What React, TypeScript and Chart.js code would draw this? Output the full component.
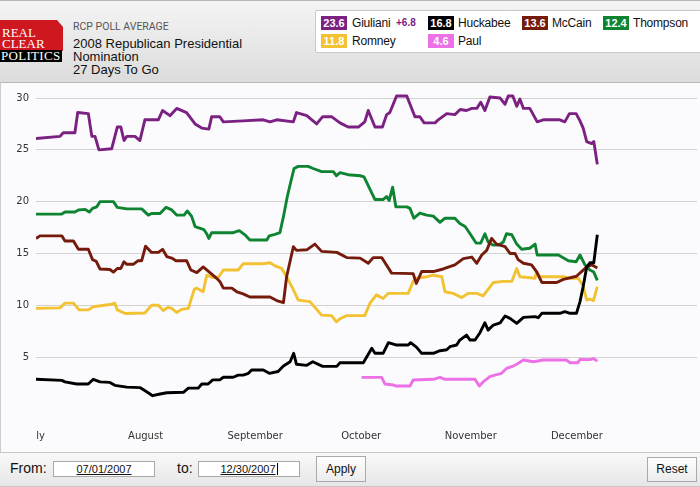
import React, { useEffect, useRef } from "react";
import { Chart, registerables } from "chart.js";

Chart.register(...registerables);

// ---- axis data ----
const monthTicks = [0, 31, 62, 92, 123, 153]; // day index from Jul 1, 2007
const monthLabels = ["July", "August", "September", "October", "November", "December"];
const yTicks = [5, 10, 15, 20, 25, 30];

// ---- series (day index from Jul 1, value %) ----
const giulianiDays = [0, 6.8, 7.7, 11, 11.8, 14.8, 15.8, 16.7, 17.8, 21.4, 23, 24, 24.9, 25.7, 28, 29.4, 30.8, 34.6, 35.8, 37.9, 39.8, 42.6, 45, 46.9, 48.9, 49.7, 52, 53, 58.6, 64.3, 66.2, 68.1, 72.8, 73.7, 76.6, 79.4, 81.1, 83.6, 86, 88.3, 91.2, 93, 94, 95.9, 98, 99.2, 100.1, 102, 104.9, 107.2, 108.6, 109.8, 112.9, 113.8, 116.2, 118.5, 120, 121.8, 123.3, 124.7, 125.8, 127, 128.4, 131.3, 132.7, 133.6, 134.9, 136, 136.9, 137.9, 139.7, 141.8, 143.5, 148.2, 149.6, 150.9, 152.8, 153.9, 154.8, 155.8, 157.2, 157.8, 158.8];
const giulianiValues = [26.1, 26.3, 26.65, 26.65, 28.6, 28.5, 26.3, 26.3, 25.0, 25.1, 27.2, 27.2, 25.9, 26.3, 26.3, 25.9, 27.9, 27.9, 28.8, 28.3, 29.0, 28.6, 27.5, 27.1, 27.0, 28.2, 28.2, 27.7, 27.8, 27.9, 27.7, 27.9, 27.7, 28.6, 28.3, 27.5, 28.2, 28.2, 27.6, 27.2, 27.2, 27.7, 28.8, 27.2, 27.2, 28.4, 28.6, 30.2, 30.2, 28.2, 28.2, 27.6, 27.6, 27.9, 28.5, 28.4, 28.9, 28.8, 29.0, 29.0, 29.6, 28.8, 30.1, 30.0, 29.4, 30.2, 30.2, 29.2, 29.9, 29.0, 29.0, 27.7, 27.9, 27.9, 27.7, 28.5, 28.5, 27.8, 27.1, 25.8, 25.6, 25.8, 23.6];

const thompsonDays = [0, 7.3, 8.2, 11, 12, 13.9, 15.1, 16, 17.2, 18.1, 21.9, 23, 25.7, 29.9, 31.8, 32.7, 35.1, 36.8, 38.4, 39.8, 41.9, 42.8, 44, 45, 47.5, 48.3, 48.9, 49.7, 55.8, 57.5, 59.1, 60.5, 65.3, 66, 67.6, 69, 70, 71.1, 72, 73, 74.2, 77, 78.4, 80.8, 84.1, 85, 86, 88.3, 91.7, 92.8, 95.9, 98.2, 99.2, 99.9, 100.9, 101.8, 104.9, 105.8, 106.9, 108.6, 110.5, 112.4, 114.3, 115.7, 118.5, 119.9, 121.4, 122.8, 124.5, 125.8, 127, 127.9, 129.4, 130.8, 132.2, 133.1, 134.6, 136, 137.4, 139.7, 141.2, 141.8, 147.8, 150.6, 152.8, 153.9, 155.3, 156.7, 157.8, 158.8];
const thompsonValues = [18.8, 18.8, 19.0, 19.0, 19.2, 19.25, 19.0, 19.35, 19.5, 20.0, 20.0, 19.45, 19.3, 19.3, 18.7, 18.85, 18.85, 19.45, 19.2, 18.7, 18.7, 19.1, 18.6, 17.6, 17.3, 16.9, 16.45, 17.0, 17.0, 17.2, 16.8, 16.3, 16.3, 16.7, 16.85, 17.0, 18.55, 20.5, 21.8, 23.2, 23.4, 23.4, 23.2, 22.9, 22.9, 22.5, 22.8, 22.6, 22.5, 22.4, 20.2, 20.2, 20.5, 20.1, 21.4, 19.5, 19.5, 19.35, 18.4, 18.9, 18.7, 18.6, 18.0, 18.4, 18.4, 17.9, 17.6, 16.9, 16.0, 16.0, 16.9, 16.1, 15.8, 15.8, 16.1, 16.9, 16.8, 15.9, 15.4, 15.5, 15.9, 14.85, 14.85, 14.3, 14.2, 14.85, 13.9, 13.4, 13.2, 12.4];

const mccainDays = [0, 1.1, 7.3, 8.2, 10.6, 12, 14.8, 16, 17, 18.1, 20.9, 21.9, 23, 24, 24.9, 25.7, 27.5, 28.9, 29.9, 31, 32.7, 34.6, 35.8, 37, 38.4, 39.6, 42.6, 43.8, 45.5, 47.3, 49.2, 51.1, 52, 53, 55.4, 56.8, 58.6, 60.5, 66.2, 68.1, 70, 70.9, 72.8, 73.7, 76.6, 78.9, 80.8, 85.1, 87.9, 91.7, 94, 95.4, 97.8, 100.6, 106.7, 107.6, 109.1, 112.4, 115.2, 118.5, 120.9, 123.3, 124.7, 126.1, 127.5, 128.9, 130.3, 132.7, 134.1, 135.5, 136.4, 137.9, 140.2, 141.6, 143.1, 147.3, 149.2, 152.9, 155.8, 157.2, 158.8];
const mccainValues = [16.45, 16.7, 16.7, 16.2, 16.2, 15.4, 15.4, 14.4, 14.25, 13.5, 13.45, 13.2, 13.55, 13.55, 14.2, 13.95, 13.95, 14.3, 14.3, 15.7, 15.1, 15.1, 15.4, 14.7, 14.55, 14.3, 14.3, 13.4, 13.15, 13.7, 13.15, 12.6, 12.3, 11.65, 11.65, 11.3, 11.1, 10.8, 10.8, 10.45, 10.25, 12.75, 15.65, 15.3, 15.35, 15.9, 15.2, 15.1, 14.6, 14.55, 14.05, 14.6, 14.6, 13.1, 13.05, 12.1, 13.25, 13.25, 13.5, 13.9, 14.5, 14.65, 14.05, 14.85, 15.3, 16.45, 15.9, 15.65, 15.0, 15.0, 14.4, 14.05, 13.9, 13.25, 12.2, 12.2, 12.5, 12.8, 13.7, 13.9, 13.6];

const romneyDays = [0, 6.8, 8.2, 10.6, 12.2, 14.8, 16.2, 21.4, 22.3, 23, 25.2, 30.8, 32.7, 34.6, 36, 37.4, 38.4, 39.8, 41.2, 43.1, 44.8, 45.5, 47.3, 48.3, 49.7, 51.6, 53, 57.2, 58.6, 64.3, 66.2, 67.6, 69.5, 70.9, 72.8, 74.2, 77.5, 80.8, 83.6, 85, 86, 87.9, 93, 94.5, 96.3, 98.2, 99.7, 105.3, 106.7, 107.7, 110.5, 112.4, 114.8, 115.7, 118, 120.4, 122.3, 124.7, 126.5, 129.4, 132.2, 134.6, 136, 136.9, 141.2, 141.6, 142.6, 149.2, 151.1, 153.4, 154.8, 155.8, 156.7, 157.7, 158.8];
const romneyValues = [9.7, 9.75, 10.2, 10.2, 9.55, 9.55, 9.86, 10.1, 10.2, 9.55, 9.2, 9.25, 10.0, 10.0, 9.5, 9.8, 9.7, 9.3, 9.6, 9.7, 11.55, 11.65, 11.3, 12.9, 12.7, 12.7, 13.4, 13.4, 14.0, 14.0, 14.1, 13.8, 13.55, 12.75, 11.5, 10.5, 10.35, 9.05, 9.0, 8.4, 8.7, 9.0, 9.0, 10.2, 11.0, 10.65, 11.15, 11.15, 12.3, 12.6, 12.75, 12.9, 12.75, 11.3, 11.15, 10.75, 11.15, 11.15, 10.9, 12.2, 12.3, 12.3, 13.55, 12.75, 12.6, 13.25, 12.75, 12.75, 12.6, 12.6, 11.85, 10.5, 10.6, 10.45, 11.8];

const huckabeeDays = [0, 7.3, 8.2, 11.5, 14.8, 16.2, 18.1, 20.9, 22.3, 25.7, 29.4, 31.3, 33, 35.1, 37, 41.7, 43.1, 45.9, 46.9, 48.7, 50, 52, 53, 55.8, 57.2, 58.6, 60.1, 61, 64.3, 66, 68.5, 70, 71.9, 72.9, 73.7, 76.6, 78.3, 81.1, 85.1, 86, 92.6, 95, 95.9, 98.2, 99.7, 102, 105.3, 106, 107.7, 109.1, 112.4, 114.3, 116.2, 117.1, 119, 119.9, 121.8, 122.8, 124.2, 125.6, 127, 127.9, 129.4, 131.3, 132.7, 134.1, 136, 137.9, 141.2, 142.1, 143.1, 148.2, 149.6, 151.1, 152.9, 153.9, 154.8, 155.8, 156.7, 157.8, 158.8];
const huckabeeValues = [2.85, 2.75, 2.6, 2.4, 2.4, 2.85, 2.6, 2.55, 2.27, 2.1, 2.05, 1.65, 1.27, 1.43, 1.55, 1.6, 2.0, 2.0, 2.4, 2.4, 2.8, 2.8, 3.05, 3.05, 3.25, 3.25, 3.43, 3.75, 3.75, 3.43, 3.6, 4.13, 4.55, 5.36, 4.3, 4.2, 4.55, 4.1, 4.1, 4.45, 4.45, 5.84, 5.36, 5.36, 6.39, 6.16, 6.16, 6.39, 5.94, 5.36, 5.36, 5.61, 5.7, 6.0, 6.16, 6.64, 7.12, 6.64, 6.64, 7.35, 8.31, 7.6, 8.09, 8.3, 8.96, 8.73, 8.25, 8.83, 8.9, 8.8, 9.22, 9.22, 9.38, 9.22, 9.22, 10.35, 11.8, 13.7, 14.1, 14.1, 16.8];

const paulDays = [92.1, 97.8, 98.7, 101.1, 102, 105.8, 106.7, 112.4, 114.3, 115.7, 124.2, 125.4, 126.5, 128.4, 129.8, 131.7, 133.1, 135, 136, 137.9, 140.7, 143.5, 150.1, 151.1, 153.3, 153.9, 156.7, 157.8, 158.8];
const paulValues = [3.04, 3.04, 2.4, 2.3, 2.2, 2.2, 2.78, 2.85, 3.04, 2.85, 2.85, 2.2, 2.6, 3.1, 3.25, 3.43, 3.9, 4.13, 4.3, 4.71, 4.55, 4.71, 4.71, 4.45, 4.45, 4.77, 4.75, 4.84, 4.6];

// ---- legend ----
const candidateNames = ["Giuliani", "Huckabee", "McCain", "Thompson", "Romney", "Paul"];
const latestValues = ["23.6", "16.8", "13.6", "12.4", "11.8", "4.6"];
const candidateColors = ["#7b2181", "#000000", "#741b0c", "#0e8431", "#f2c232", "#ec70e6"];
const leadSpread = "+6.8";

const seriesDays = [giulianiDays, huckabeeDays, mccainDays, thompsonDays, romneyDays, paulDays];
const seriesValues = [giulianiValues, huckabeeValues, mccainValues, thompsonValues, romneyValues, paulValues];
// draw order (lower = on top)
const seriesOrder = [3, 0, 2, 4, 5, 1];

const clipPlugin = {
  id: "clipBelowLeft",
  beforeDraw(chart: any) {
    const { ctx, chartArea, width, height } = chart;
    ctx.save();
    ctx.beginPath();
    ctx.rect(0, 0, width, chartArea.bottom);
    ctx.rect(chartArea.left, chartArea.bottom, width - chartArea.left, height - chartArea.bottom);
    ctx.clip();
  },
  afterDraw(chart: any) {
    chart.ctx.restore();
  },
};

function RcpChart() {
  const ref = useRef<HTMLCanvasElement | null>(null);
  useEffect(() => {
    if (!ref.current) return;
    const datasets = candidateNames.map((name, i) => ({
      label: name,
      data: seriesDays[i].map((d, j) => ({ x: d, y: seriesValues[i][j] })),
      borderColor: candidateColors[i],
      backgroundColor: candidateColors[i],
      borderWidth: 2.9,
      pointRadius: 0,
      tension: 0,
      borderJoinStyle: "round" as const,
      order: seriesOrder[i],
    }));
    const chart = new Chart(ref.current, {
      type: "line",
      data: { datasets },
      plugins: [clipPlugin],
      options: {
        animation: false,
        responsive: false,
        devicePixelRatio: 1,
        layout: { padding: { top: 5, right: 3, left: 0, bottom: 0 } },
        plugins: { legend: { display: false }, tooltip: { enabled: false } },
        scales: {
          x: {
            type: "linear",
            min: 0,
            max: 187,
            grid: { display: false, drawTicks: false },
            border: { display: false },
            afterBuildTicks: (scale: any) => {
              scale.ticks = monthTicks.map((v) => ({ value: v }));
            },
            afterFit: (scale: any) => {
              scale.height = 27;
              scale.paddingLeft = 0;
              scale.paddingRight = 0;
            },
            ticks: {
              autoSkip: false,
              maxRotation: 0,
              padding: 5,
              color: "#333",
              font: { family: "DejaVu Sans", size: 10 },
              callback: (v: any) => {
                const idx = monthTicks.indexOf(Number(v));
                return idx >= 0 ? monthLabels[idx] : "";
              },
            },
          },
          y: {
            min: -1.56,
            max: 30.97,
            grid: { color: "#d2d2d2", lineWidth: 1, drawTicks: false },
            border: { display: false },
            afterBuildTicks: (scale: any) => {
              scale.ticks = yTicks.map((v) => ({ value: v }));
            },
            afterFit: (scale: any) => {
              scale.width = 36;
              scale.paddingTop = 0;
              scale.paddingBottom = 0;
            },
            ticks: {
              padding: 7,
              color: "#333",
              font: { family: "DejaVu Sans", size: 10 },
            },
          },
        },
      },
    });
    return () => chart.destroy();
  }, []);
  return (
    <canvas
      ref={ref}
      width={700}
      height={369}
      style={{ position: "absolute", left: 0, top: 83, width: 700, height: 369 }}
    />
  );
}

const sans = "'Liberation Sans', Arial, sans-serif";

function Swatch({ x, y, i }: { x: number; y: number; i: number }) {
  return (
    <div
      style={{
        position: "absolute",
        left: x,
        top: y,
        width: 26,
        height: 14,
        background: candidateColors[i],
        color: "#fff",
        fontFamily: sans,
        fontWeight: "bold",
        fontSize: 11,
        lineHeight: "14px",
        textAlign: "center",
      }}
    >
      {latestValues[i]}
    </div>
  );
}

function Name({ x, y, i }: { x: number; y: number; i: number }) {
  return (
    <div
      style={{
        position: "absolute",
        left: x,
        top: y,
        height: 14,
        lineHeight: "14px",
        fontFamily: sans,
        fontSize: 12,
        letterSpacing: "-0.2px",
        color: "#111",
        whiteSpace: "nowrap",
      }}
    >
      {candidateNames[i]}
    </div>
  );
}

export default function App() {
  const swatchX = [321, 428, 522, 603, 321, 428];
  const nameX = [352, 458, 552, 633, 352, 458];
  const rowY = [16, 16, 16, 16, 34, 34];
  return (
    <div
      style={{
        position: "relative",
        width: 700,
        height: 487,
        overflow: "hidden",
        fontFamily: sans,
        background: "#fff",
      }}
    >
      <style>{"body{margin:0}"}</style>
      {/* header */}
      <div
        style={{
          position: "absolute",
          left: 0,
          top: 0,
          width: 700,
          height: 82,
          background: "linear-gradient(#f4f4f4, #dcdcdc)",
          borderTop: "1px solid #b5b5b5",
          boxSizing: "border-box",
        }}
      />
      {/* logo */}
      <div
        style={{
          position: "absolute",
          left: 0,
          top: 20,
          width: 63,
          height: 31,
          background: "#cf1720",
          clipPath: "polygon(0 0, 57px 0, 63px 7px, 63px 100%, 0 100%)",
        }}
      />
      <div style={{ position: "absolute", left: 0, top: 50, width: 62, height: 12, background: "#000" }} />
      {["REAL", "CLEAR", "POLITICS"].map((t, k) => (
        <div
          key={t}
          style={{
            position: "absolute",
            left: k === 2 ? 1 : 2,
            top: [26.5, 38, 49.5][k],
            fontFamily: "'Liberation Serif', 'Times New Roman', serif",
            fontSize: 13,
            lineHeight: "12px",
            color: "#fff",
            letterSpacing: k === 2 ? "0.3px" : "0px",
            whiteSpace: "nowrap",
          }}
        >
          {t}
        </div>
      ))}
      <div
        style={{
          position: "absolute",
          left: 73,
          top: 21,
          fontFamily: "Roboto, sans-serif",
          fontSize: 10.5,
          lineHeight: "12px",
          color: "#555",
          whiteSpace: "nowrap",
        }}
      >
        RCP POLL AVERAGE
      </div>
      <div
        style={{
          position: "absolute",
          left: 73,
          top: 37,
          fontSize: 13,
          lineHeight: "13px",
          color: "#111",
          whiteSpace: "nowrap",
        }}
      >
        <div>2008 Republican Presidential</div>
        <div>Nomination</div>
        <div>27 Days To Go</div>
      </div>
      {/* legend */}
      <div
        style={{
          position: "absolute",
          left: 315,
          top: 10,
          width: 400,
          height: 43,
          background: "#fff",
          border: "1px solid #c8c8c8",
          borderRadius: 2,
          boxSizing: "border-box",
        }}
      />
      {candidateNames.map((_, i) => (
        <React.Fragment key={i}>
          <Swatch x={swatchX[i]} y={rowY[i]} i={i} />
          <Name x={nameX[i]} y={rowY[i]} i={i} />
        </React.Fragment>
      ))}
      <div
        style={{
          position: "absolute",
          left: 396,
          top: 16,
          lineHeight: "14px",
          fontSize: 10,
          fontWeight: "bold",
          color: candidateColors[0],
        }}
      >
        {leadSpread}
      </div>
      {/* chart panel */}
      <div
        style={{
          position: "absolute",
          left: 0,
          top: 82,
          width: 700,
          height: 370,
          background: "#fbfbfe",
          borderTop: "1px solid #b8b8b8",
          borderLeft: "1px solid #cccccc",
          boxSizing: "border-box",
        }}
      />
      <RcpChart />
      {/* footer */}
      <div
        style={{
          position: "absolute",
          left: 0,
          top: 452,
          width: 700,
          height: 35,
          background: "linear-gradient(#f9f9f9, #e6e6e6)",
          borderTop: "1px solid #c6c6c6",
          borderBottom: "1px solid #c6c6c6",
          boxSizing: "border-box",
        }}
      />
      <div style={{ position: "absolute", left: 10, top: 460, fontSize: 14, lineHeight: "16px", color: "#111" }}>From:</div>
      <div
        style={{
          position: "absolute",
          left: 53,
          top: 461,
          width: 102,
          height: 16,
          background: "#fff",
          border: "1px solid #a8a8a8",
          boxSizing: "border-box",
          fontSize: 11,
          lineHeight: "14px",
          textAlign: "center",
          textDecoration: "underline",
          color: "#111",
        }}
      >
        07/01/2007
      </div>
      <div style={{ position: "absolute", left: 177, top: 460, fontSize: 14, lineHeight: "16px", color: "#111" }}>to:</div>
      <div
        style={{
          position: "absolute",
          left: 198,
          top: 461,
          width: 102,
          height: 16,
          background: "#fff",
          border: "1px solid #a8a8a8",
          boxSizing: "border-box",
          fontSize: 11,
          lineHeight: "14px",
          textAlign: "center",
          color: "#111",
        }}
      >
        <span style={{ textDecoration: "underline", borderRight: "1px solid #000", paddingRight: 1 }}>12/30/2007</span>
      </div>
      <div
        style={{
          position: "absolute",
          left: 316,
          top: 456,
          width: 50,
          height: 26,
          background: "linear-gradient(#fefefe, #ececec)",
          border: "1px solid #a9a9a9",
          boxSizing: "border-box",
          fontSize: 12,
          lineHeight: "24px",
          textAlign: "center",
          color: "#111",
        }}
      >
        Apply
      </div>
      <div
        style={{
          position: "absolute",
          left: 647,
          top: 457,
          width: 50,
          height: 25,
          background: "linear-gradient(#fefefe, #ececec)",
          border: "1px solid #a9a9a9",
          boxSizing: "border-box",
          fontSize: 12,
          lineHeight: "23px",
          textAlign: "center",
          color: "#111",
        }}
      >
        Reset
      </div>
    </div>
  );
}
